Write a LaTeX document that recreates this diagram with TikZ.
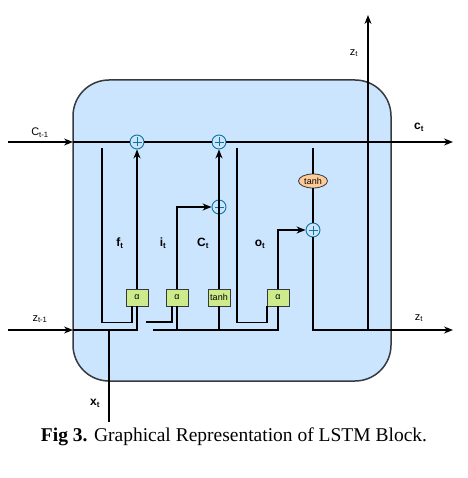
\documentclass[tikz,border=0pt]{standalone}
\usepackage{fontspec}
\setmainfont{Liberation Serif}
\setsansfont{Liberation Sans}
\usetikzlibrary{arrows.meta,shapes.geometric}
\definecolor{cellfill}{HTML}{CCE5FF}
\definecolor{celldraw}{HTML}{36393D}
\definecolor{gatefill}{HTML}{CDEB8B}
\definecolor{tanhfill}{HTML}{FFCC99}
\definecolor{plusdraw}{HTML}{10739E}

\begin{document}
\begin{tikzpicture}[x=1pt,y=-1pt,line width=1.3pt,
    cell/.style={draw=celldraw,fill=cellfill,line width=1.5pt,rounded corners=36pt,
      minimum width=318pt,minimum height=301pt,inner sep=0pt},
    plus/.style={circle,draw=plusdraw,line width=0.9pt,minimum size=14pt,inner sep=0pt,
      path picture={
        \draw[plusdraw,line width=0.9pt]
          ([xshift=-4.5pt]path picture bounding box.center) -- ([xshift=4.5pt]path picture bounding box.center)
          ([yshift=-4.5pt]path picture bounding box.center) -- ([yshift=4.5pt]path picture bounding box.center);}},
    gate/.style={draw=celldraw,fill=gatefill,line width=0.8pt,minimum width=22pt,
      minimum height=17pt,inner sep=0pt,font=\sffamily\fontsize{9}{9}\selectfont},
    squash/.style={ellipse,draw=celldraw,fill=tanhfill,line width=0.8pt,minimum width=29pt,
      minimum height=14pt,inner sep=0pt,font=\sffamily\fontsize{9}{9}\selectfont},
    lbl/.style={font=\sffamily\fontsize{11}{11}\selectfont},
    blbl/.style={font=\sffamily\bfseries\fontsize{12}{12}\selectfont},
    arr/.style={-{Stealth[length=9pt,width=7pt]}}]
    \useasboundingbox (0,0) rectangle (467,478);
    \node[cell] (cell) at (232,230.5) {};
    % operators
    \node[plus] (fplus) at (137,142) {};
    \node[plus] (cplus) at (219,142) {};
    \node[plus] (iplus) at (219,207) {};
    \node[plus] (oplus) at (313,230) {};
    \node[squash] (otanh) at (313,181) {tanh};
    % gates
    \node[gate] (fgate) at (137,297.5) {α};
    \node[gate] (igate) at (177,297.5) {α};
    \node[gate] (cgate) at (219,297.5) {tanh};
    \node[gate] (ogate) at (278,297.5) {α};
    % free ends
    \coordinate (cin) at (8,142);
    \coordinate (cinb) at (73,142);
    \coordinate (cout) at (453,142);
    \coordinate (zin) at (8,330);
    \coordinate (zinb) at (73,330);
    \coordinate (zmid) at (153,330);
    \coordinate (zout) at (453,330);
    \coordinate (zjoin) at (368,330);
    \coordinate (ztop) at (368,15);
    \coordinate (xin) at (109,422);
    \coordinate (xjoin) at (109,330);
    \coordinate (floop) at (102,148);
    \coordinate (iloop) at (146,322);
    \coordinate (oloop) at (237,148);
    \coordinate (tloop) at (313,148);
    % cell state
    \draw[arr] (cin) -- (cinb);
    \draw (cinb) -- (fplus);
    \draw (fplus) -- (cplus);
    \draw[arr] (cplus) -- (cout);
    % input z
    \draw[arr] (zin) -- (zinb);
    \draw (zinb) -- (fgate.south |- zinb) -- (fgate.south);
    \draw (zmid) -- (ogate.south |- zmid) -- (ogate.south);
    \draw (igate.south) -- (igate.south |- zmid);
    \draw (cgate.south) -- (cgate.south |- zmid);
    \draw (xin) -- (xjoin);
    % gate loops
    \draw (floop) |- ([xshift=-5pt,yshift=-16pt]fgate.south) -- ([xshift=-5pt]fgate.south);
    \draw (iloop) -| ([xshift=-5pt]igate.south);
    \draw (oloop) |- ([xshift=-11pt,yshift=-16pt]ogate.south) -- ([xshift=-11pt]ogate.south);
    % gate outputs
    \draw[arr] (fgate) -- (fplus);
    \draw[arr] (igate) |- (iplus);
    \draw[arr] (cgate) -- (cplus);
    \draw[arr] (ogate) |- (oplus);
    \draw (tloop) -- (otanh);
    \draw (otanh) -- (oplus);
    \draw[arr] (oplus) |- (zout);
    \draw[arr] (zjoin) -- (ztop);
    % labels
    \node[lbl] (lcprev) at (40,133) {C\textsubscript{t-1}};
    \node[lbl] (lzprev) at (40,319) {z\textsubscript{t-1}};
    \node[blbl] (lcnext) at (419,127) {c\textsubscript{t}};
    \node[lbl] (lztop) at (354,53) {z\textsubscript{t}};
    \node[lbl] (lzout) at (419,318) {z\textsubscript{t}};
    \node[blbl] (lx) at (95,403) {x\textsubscript{t}};
    \node[blbl] (lf) at (120,243) {f\textsubscript{t}};
    \node[blbl] (li) at (163,243) {i\textsubscript{t}};
    \node[blbl] (lc) at (203,243) {C\textsubscript{t}};
    \node[blbl] (lo) at (260,244) {o\textsubscript{t}};
    \node (caption) at (234,437) {\fontsize{19.5}{19.5}\selectfont\textbf{Fig 3.} Graphical Representation of LSTM Block.};
\end{tikzpicture}
\end{document}
